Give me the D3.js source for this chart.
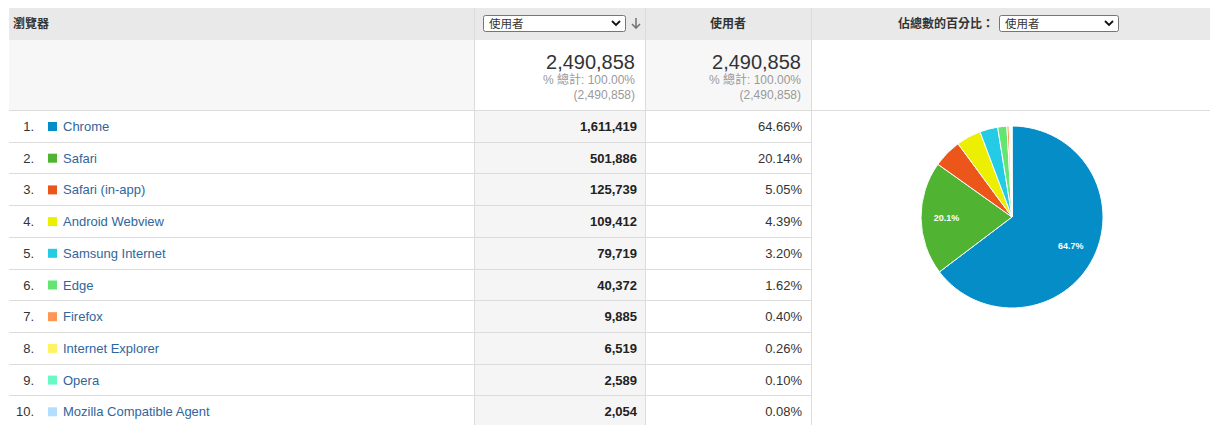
<!DOCTYPE html>
<html>
<head>
<meta charset="utf-8">
<script src="https://cdn.jsdelivr.net/npm/d3@7"></script>
<style>
  body { margin: 0; background: #fff; }
  svg { display: block; font-family: "Liberation Sans", Arial, "Noto Sans CJK TC", sans-serif; }
</style>
</head>
<body>
<div id="chart"></div>
<script>
// data
var browsers = ["Chrome", "Safari", "Safari (in-app)", "Android Webview", "Samsung Internet",
                "Edge", "Firefox", "Internet Explorer", "Opera", "Mozilla Compatible Agent"];
var users = [1611419, 501886, 125739, 109412, 79719, 40372, 9885, 6519, 2589, 2054];
var pctUsers = ["64.66%", "20.14%", "5.05%", "4.39%", "3.20%", "1.62%", "0.40%", "0.26%", "0.10%", "0.08%"];
var totalUsers = 2490858;
var colors = ["#058dc7", "#50b432", "#ed561b", "#edef00", "#24cbe5",
              "#64e572", "#ff9655", "#fff263", "#6af9c4", "#b2deff"];
var headers = ["瀏覽器", "使用者", "使用者", "佔總數的百分比："];

function draw() {
  var W = 1210, H = 425;
  var x0 = 9, y0 = 8;
  var colX = [x0, 474, 645, 811, W];   // column edges
  var headH = 32, sumH = 70, rowH = 31.7;
  var rowTop = y0 + headH + sumH;

  var svg = d3.select("#chart").append("svg")
    .attr("width", W).attr("height", H);

  var fmt = d3.format(",");
  var ink = "#333";

  // header band
  svg.append("rect").attr("x", x0).attr("y", y0)
    .attr("width", W - x0).attr("height", headH).attr("fill", "#e9e9e9");

  // summary row backgrounds
  var sumFill = ["#f7f7f7", "#ffffff", "#f7f7f7", "#ffffff"];
  svg.selectAll(".sumbg").data(sumFill).enter().append("rect")
    .attr("x", function(d, i) { return colX[i]; })
    .attr("y", y0 + headH)
    .attr("width", function(d, i) { return colX[i + 1] - colX[i]; })
    .attr("height", sumH)
    .attr("fill", function(d) { return d; });

  // sorted column is shaded in body rows
  svg.append("rect").attr("x", colX[1]).attr("y", rowTop)
    .attr("width", colX[2] - colX[1]).attr("height", H - rowTop).attr("fill", "#f5f5f5");

  // horizontal rules
  svg.append("line").attr("x1", x0).attr("x2", W)
    .attr("y1", rowTop + 0.5).attr("y2", rowTop + 0.5).attr("stroke", "#dcdcdc");
  svg.selectAll(".rule").data(browsers).enter().append("line")
    .attr("x1", x0).attr("x2", colX[3])
    .attr("y1", function(d, i) { return Math.round(rowTop + rowH * (i + 1)) + 0.5; })
    .attr("y2", function(d, i) { return Math.round(rowTop + rowH * (i + 1)) + 0.5; })
    .attr("stroke", "#dcdcdc");

  // column dividers
  svg.selectAll(".vdiv").data(colX.slice(1, 4)).enter().append("line")
    .attr("x1", function(d) { return d + 0.5; }).attr("x2", function(d) { return d + 0.5; })
    .attr("y1", y0).attr("y2", H).attr("stroke", "#dcdcdc");

  // header texts
  svg.append("text").attr("x", 13).attr("y", y0 + 20)
    .attr("font-size", 12).attr("font-weight", "bold").attr("fill", ink).text(headers[0]);
  svg.append("text").attr("x", (colX[2] + colX[3]) / 2).attr("y", y0 + 20)
    .attr("text-anchor", "middle").attr("font-size", 12).attr("font-weight", "bold")
    .attr("fill", ink).text(headers[2]);
  svg.append("text").attr("x", 994).attr("y", y0 + 20)
    .attr("text-anchor", "end").attr("font-size", 12).attr("font-weight", "bold")
    .attr("fill", ink).text(headers[3]);

  function selectBox(x, w, label) {
    var g = svg.append("g").attr("transform", "translate(" + x + "," + (y0 + 7) + ")");
    g.append("rect").attr("x", 0.5).attr("y", 0.5).attr("width", w).attr("height", 16)
      .attr("rx", 2).attr("fill", "#fff").attr("stroke", "#767676");
    g.append("text").attr("x", 6).attr("y", 12.5).attr("font-size", 11.5)
      .attr("fill", ink).text(label);
    g.append("path").attr("d", "M" + (w - 13) + ",6 l4,4 l4,-4")
      .attr("fill", "none").attr("stroke", "#111").attr("stroke-width", 1.8);
  }
  selectBox(483, 142, headers[1]);
  selectBox(999, 119, headers[2]);

  // sort arrow
  svg.append("path").attr("d", "M636,18 v10 M632,24 l4,4 l4,-4")
    .attr("fill", "none").attr("stroke", "#777").attr("stroke-width", 1.6);

  // summary cells
  [colX[2] - 10, colX[3] - 10].forEach(function(x) {
    svg.append("text").attr("x", x).attr("y", y0 + headH + 29).attr("text-anchor", "end")
      .attr("font-size", 20).attr("fill", ink).text(fmt(totalUsers));
    svg.append("text").attr("x", x).attr("y", y0 + headH + 44).attr("text-anchor", "end")
      .attr("font-size", 12).attr("fill", "#999").text("% 總計: 100.00%");
    svg.append("text").attr("x", x).attr("y", y0 + headH + 59).attr("text-anchor", "end")
      .attr("font-size", 12).attr("fill", "#999").text("(" + fmt(totalUsers) + ")");
  });

  // body rows
  var rows = svg.selectAll(".row").data(browsers).enter().append("g")
    .attr("transform", function(d, i) { return "translate(0," + (rowTop + rowH * i) + ")"; });

  rows.append("text").attr("x", 34).attr("y", 21).attr("text-anchor", "end")
    .attr("font-size", 13).attr("fill", ink).text(function(d, i) { return (i + 1) + "."; });
  rows.append("rect").attr("x", 48).attr("y", 12).attr("width", 9).attr("height", 9)
    .attr("fill", function(d, i) { return colors[i]; });
  rows.append("text").attr("x", 63).attr("y", 21)
    .attr("font-size", 13).attr("fill", "#30669c").text(function(d) { return d; });
  rows.append("text").attr("x", colX[2] - 8).attr("y", 21).attr("text-anchor", "end")
    .attr("font-size", 13).attr("font-weight", "bold").attr("fill", "#222")
    .text(function(d, i) { return fmt(users[i]); });
  rows.append("text").attr("x", colX[3] - 9).attr("y", 21).attr("text-anchor", "end")
    .attr("font-size", 13).attr("fill", ink)
    .text(function(d, i) { return pctUsers[i]; });

  // pie
  var cx = 1012, cy = 217, r = 91;
  var pieData = users.map(function(v, i) { return { name: browsers[i], value: v, color: colors[i] }; });
  pieData.push({ name: "other", value: totalUsers - d3.sum(users), color: "#cccccc" });

  var pie = d3.pie().sort(null).value(function(d) { return d.value; });
  var arc = d3.arc().innerRadius(0).outerRadius(r);
  var labelArc = d3.arc().innerRadius(r * 0.72).outerRadius(r * 0.72);

  var pg = svg.append("g").attr("transform", "translate(" + cx + "," + cy + ")");
  var slices = pie(pieData);
  pg.selectAll("path").data(slices).enter().append("path")
    .attr("d", arc)
    .attr("fill", function(d) { return d.data.color; })
    .attr("stroke", "#fff").attr("stroke-width", 1);

  pg.selectAll(".lbl").data(slices.filter(function(d) { return d.data.value / totalUsers > 0.1; }))
    .enter().append("text")
    .attr("transform", function(d) { return "translate(" + labelArc.centroid(d) + ")"; })
    .attr("text-anchor", "middle").attr("dy", "0.35em")
    .attr("font-size", 9).attr("font-weight", "bold").attr("fill", "#fff")
    .text(function(d) { return (d.data.value / totalUsers * 100).toFixed(1) + "%"; });
}
draw();
</script>
</body>
</html>
